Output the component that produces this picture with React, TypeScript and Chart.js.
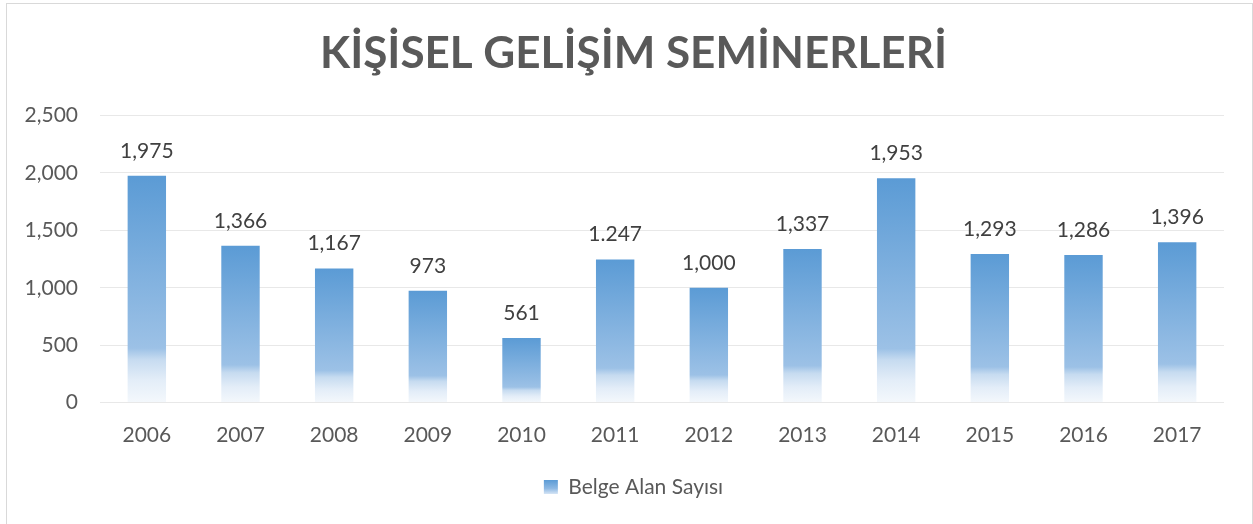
import React, { useEffect, useRef } from 'react';
import { Chart, registerables } from 'chart.js';

Chart.register(...registerables);

const chartTitle = 'KİŞİSEL GELİŞİM SEMİNERLERİ';
const seriesName = 'Belge Alan Sayısı';
const categories = ['2006', '2007', '2008', '2009', '2010', '2011', '2012', '2013', '2014', '2015', '2016', '2017'];
const values = [1975, 1366, 1167, 973, 561, 1247, 1000, 1337, 1953, 1293, 1286, 1396];
const valueLabels = ['1,975', '1,366', '1,167', '973', '561', '1.247', '1,000', '1,337', '1,953', '1,293', '1,286', '1,396'];
const yTickLabels: Record<number, string> = { 0: '0', 500: '500', 1000: '1,000', 1500: '1,500', 2000: '2,000', 2500: '2,500' };

const FONT = 'Lato';
const TEXT = '#595959';

const barGradient = (ctx: any) => {
  const chart = ctx.chart;
  const { chartArea, scales } = chart;
  if (!chartArea || ctx.type !== 'data') return '#5B9BD5';
  const top = scales.y.getPixelForValue(values[ctx.dataIndex]);
  const base = scales.y.getPixelForValue(0);
  const g = chart.ctx.createLinearGradient(0, top, 0, base);
  g.addColorStop(0, '#5B9BD5');
  g.addColorStop(0.76, '#9CC1E6');
  g.addColorStop(0.81, '#C6DBF0');
  g.addColorStop(0.9, '#E3EDF8');
  g.addColorStop(1, '#F4F8FC');
  return g;
};

const dataLabelPlugin = {
  id: 'dataLabels',
  afterDatasetsDraw(chart: any) {
    const meta = chart.getDatasetMeta(0);
    const c = chart.ctx;
    c.save();
    c.font = `21px ${FONT}`;
    c.fillStyle = '#404040';
    c.textAlign = 'center';
    c.textBaseline = 'middle';
    meta.data.forEach((bar: any, i: number) => {
      c.fillText(valueLabels[i], bar.x, bar.y - 25);
    });
    c.restore();
  },
};

const legendBoxPlugin = {
  id: 'legendBox',
  afterDraw(chart: any) {
    const lg = chart.legend;
    if (!lg || !lg.legendHitBoxes || !lg.legendHitBoxes.length) return;
    const hb = lg.legendHitBoxes[0];
    const size = 14;
    const x = hb.left;
    const y = hb.top + (hb.height - size) / 2;
    const c = chart.ctx;
    const g = c.createLinearGradient(0, y, 0, y + size);
    g.addColorStop(0, '#5B9BD5');
    g.addColorStop(0.6, '#8DB8E3');
    g.addColorStop(1, '#D6E5F5');
    c.save();
    c.fillStyle = g;
    c.fillRect(x, y, size, size);
    c.restore();
  },
};

export default function App() {
  const ref = useRef<HTMLCanvasElement>(null);
  useEffect(() => {
    document.body.style.margin = '0';
    const chart = new Chart(ref.current!, {
      type: 'bar',
      data: {
        labels: categories,
        datasets: [
          {
            label: seriesName,
            data: values,
            backgroundColor: barGradient,
            borderWidth: 0,
            categoryPercentage: 1,
            barPercentage: 0.41,
          },
        ],
      },
      options: {
        animation: false,
        responsive: false,
        maintainAspectRatio: false,
        layout: { padding: { left: 14, right: 0, top: 0, bottom: 16.5 } },
        plugins: {
          title: {
            display: true,
            text: chartTitle,
            color: TEXT,
            font: { family: FONT, size: 44, weight: 'bold', lineHeight: 1.2 },
            padding: { top: 27, bottom: 35.8 },
          },
          legend: {
            position: 'bottom',
            labels: {
              color: TEXT,
              font: { family: FONT, size: 21 },
              boxWidth: 14,
              boxHeight: 14,
              padding: 10,
              generateLabels: () => [
                {
                  text: seriesName,
                  fillStyle: 'rgba(0,0,0,0)',
                  strokeStyle: 'rgba(0,0,0,0)',
                  lineWidth: 0,
                  hidden: false,
                  datasetIndex: 0,
                  fontColor: TEXT,
                },
              ],
            },
          },
          tooltip: { enabled: false },
        },
        scales: {
          x: {
            grid: { display: false, drawTicks: false },
            border: { display: false },
            ticks: { color: TEXT, font: { family: FONT, size: 21 }, padding: 20 },
            afterFit: (s: any) => {
              s.height = 64;
            },
          },
          y: {
            min: 0,
            max: 2500,
            grid: { color: '#E8E8E8', lineWidth: 1, drawTicks: false },
            border: { display: false },
            ticks: {
              stepSize: 500,
              color: TEXT,
              font: { family: FONT, size: 21 },
              padding: 22,
              callback: (v: any) => yTickLabels[Number(v)] ?? String(v),
            },
            afterFit: (s: any) => {
              s.width = 86;
            },
          },
          y2: {
            position: 'right',
            display: true,
            grid: { display: false, drawTicks: false },
            border: { display: false },
            ticks: { display: false },
            afterFit: (s: any) => {
              s.width = 29;
            },
          },
        },
      },
      plugins: [dataLabelPlugin, legendBoxPlugin],
    });
    return () => chart.destroy();
  }, []);

  return (
    <div style={{ position: 'fixed', left: 0, top: 0, width: 1253, height: 524, background: '#fff', overflow: 'hidden' }}>
      <canvas ref={ref} width={1253} height={524} style={{ position: 'absolute', left: 0, top: 0, width: 1253, height: 524 }} />
      <div
        style={{
          position: 'absolute',
          left: 6,
          top: 3,
          width: 1245,
          height: 600,
          border: '1px solid #D9D9D9',
          pointerEvents: 'none',
        }}
      />
    </div>
  );
}
